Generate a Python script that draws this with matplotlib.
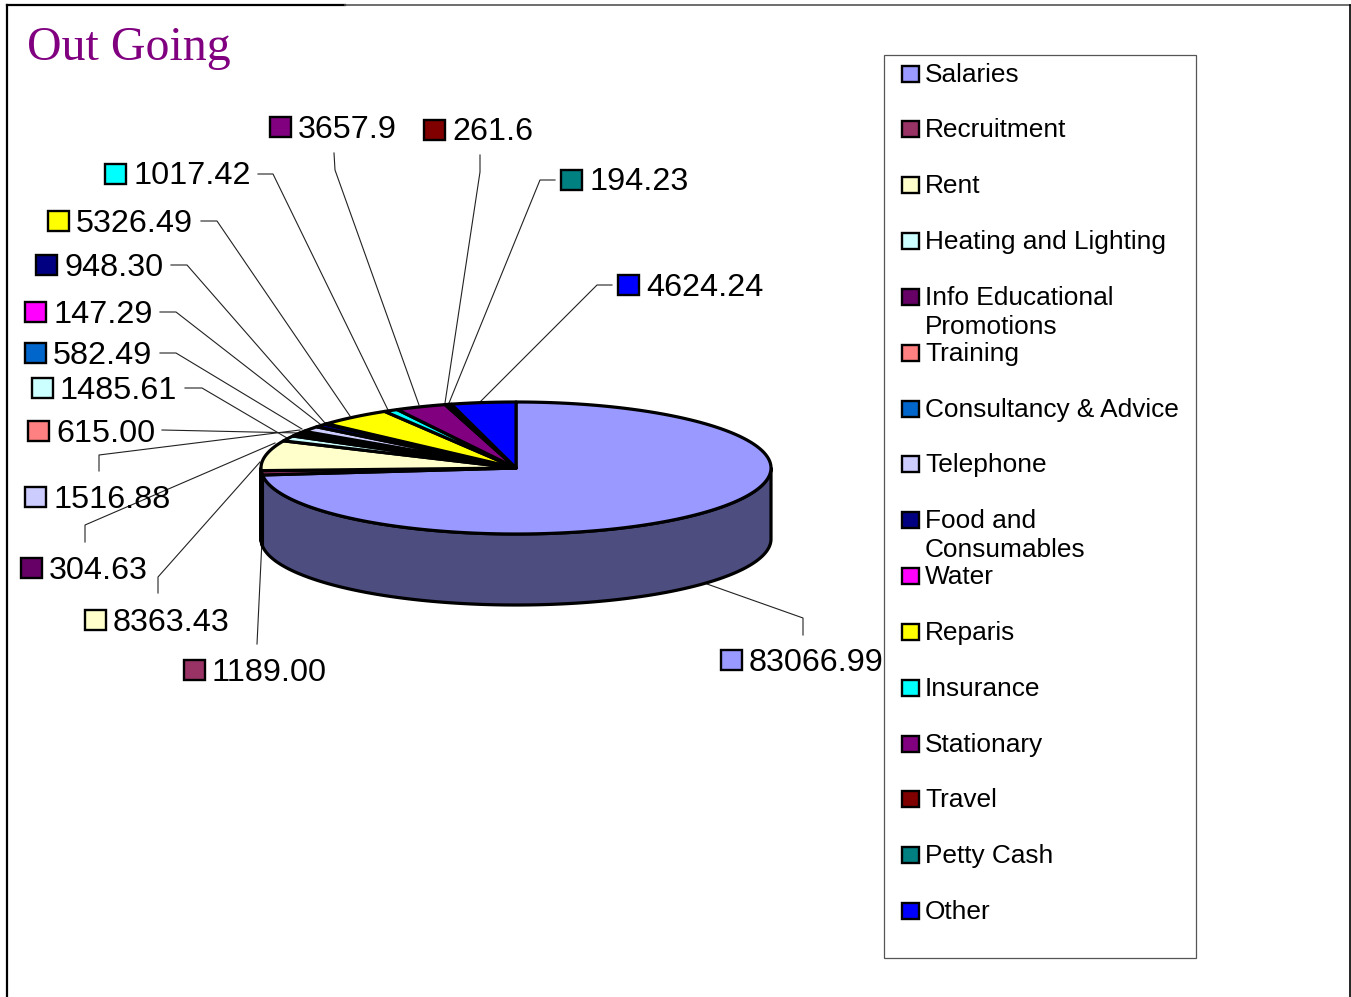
import numpy as np
import matplotlib
matplotlib.use("Agg")
import matplotlib.pyplot as plt
from matplotlib.patches import Polygon, Rectangle

categories = ["Salaries", "Recruitment", "Rent", "Heating and Lighting",
              "Info Educational\nPromotions", "Training", "Consultancy & Advice",
              "Telephone", "Food and\nConsumables", "Water", "Reparis", "Insurance",
              "Stationary", "Travel", "Petty Cash", "Other"]
values = [83066.99, 1189.00, 8363.43, 1485.61, 304.63, 615.00, 582.49, 1516.88,
          948.30, 147.29, 5326.49, 1017.42, 3657.9, 261.6, 194.23, 4624.24]
value_labels = ["83066.99", "1189.00", "8363.43", "1485.61", "304.63", "615.00", "582.49",
                "1516.88", "948.30", "147.29", "5326.49", "1017.42", "3657.9", "261.6",
                "194.23", "4624.24"]
colours = ["#9999FF", "#993366", "#FFFFCC", "#CCFFFF", "#660066", "#FF8080", "#0066CC",
           "#CCCCFF", "#000080", "#FF00FF", "#FFFF00", "#00FFFF", "#800080", "#800000",
           "#008080", "#0000FF"]

# label swatch left edge and text centre line, picture pixels
label_pos = [(721, 660), (184, 670), (85, 620), (32, 388), (21, 568), (28, 431), (25, 353),
             (25, 497), (36, 265), (25, 312), (48, 221), (105, 174), (270, 127), (424, 130),
             (561, 180), (618, 285)]
# leader lines, picture pixels
leaders = [[(803, 635), (803, 618), (707, 584)],
           [(257, 644), (262, 540)],
           [(158, 593), (158, 577), (260, 462)],
           [(185, 388), (202, 388), (287, 438)],
           [(85, 542), (85, 525), (275, 443)],
           [(162, 430), (300, 433)],
           [(160, 353), (176, 353), (302, 429)],
           [(99, 471), (99, 455), (300, 430)],
           [(171, 265), (187, 265), (325, 423)],
           [(160, 312), (176, 312), (320, 424)],
           [(201, 221), (217, 221), (350, 416)],
           [(258, 174), (273, 174), (388, 410)],
           [(334, 153), (335, 170), (419, 405)],
           [(480, 155), (480, 172), (445, 403)],
           [(555, 180), (540, 180), (449, 403)],
           [(612, 285), (597, 285), (480, 402)]]
legend_y = [74, 129, 185, 241, 297, 353, 409, 464, 520, 576, 632, 688, 744, 799, 855, 911]

cx, cy, rx, ry, depth = 516, 468, 255, 66, 71
edge = "black"

fig = plt.figure(figsize=(13.51, 9.97), dpi=100)
ax = fig.add_axes([0, 0, 1, 1])
ax.set_xlim(0, 1351)
ax.set_ylim(997, 0)
ax.axis("off")
plt.rcParams["font.family"] = "Liberation Sans"


def rim(a0, a1, dy=0):
    t = np.radians(np.linspace(a0, a1, max(int(abs(a1 - a0) * 2), 2)))
    return np.column_stack([cx + rx*np.sin(t), cy + dy - ry*np.cos(t)])


def darker(c):
    rgb = np.array(matplotlib.colors.to_rgb(c))
    return tuple(rgb*0.5)


# page border
ax.plot([7, 7], [997, 5], color="black", lw=1.6)
ax.plot([7, 345], [5, 5], color="black", lw=1.6)
ax.plot([345, 1350], [5, 5], color="#555555", lw=1.2)
ax.plot([1350, 1350], [5, 997], color="black", lw=1.2)

ax.text(27, 48, "Out Going", family="Liberation Serif", fontsize=34.5, color="#800080",
        ha="left", va="center")

# leaders go under the pie
for pts in leaders:
    p = np.array(pts)
    ax.plot(p[:, 0], p[:, 1], color="#222222", lw=0.8, zorder=1)

angles = np.concatenate([[0], np.cumsum(values)]) / sum(values) * 360

# side wall, only the front half is visible
for i in range(len(values)):
    a0, a1 = max(angles[i], 90), min(angles[i+1], 270)
    if a1 <= a0:
        continue
    wall = np.vstack([rim(a0, a1), rim(a0, a1, depth)[::-1]])
    ax.add_patch(Polygon(wall, closed=True, facecolor=darker(colours[i]), edgecolor=edge,
                         lw=2.3, zorder=2, joinstyle="round"))

# top slices
for i in range(len(values)):
    pts = np.vstack([[cx, cy], rim(angles[i], angles[i+1])])
    ax.add_patch(Polygon(pts, closed=True, facecolor=colours[i], edgecolor=edge,
                         lw=2.3, zorder=3, joinstyle="round"))

# value labels with swatches
for lab, c, (x, y) in zip(value_labels, colours, label_pos):
    ax.add_patch(Rectangle((x, y-10), 21, 20, facecolor=c, edgecolor="black", lw=1.7, zorder=5))
    ax.text(x+28, y+2.5, lab, fontsize=23.35, ha="left", va="center", color="black", zorder=6)

# legend
ax.add_patch(Rectangle((884, 55), 312, 903, facecolor="white", edgecolor="#555555", lw=0.9, zorder=4))
for name, c, y in zip(categories, colours, legend_y):
    ax.add_patch(Rectangle((902, y-8), 17, 16, facecolor=c, edgecolor="black", lw=1.7, zorder=5))
    ax.text(925, y-11, name, fontsize=18.95, ha="left", va="top", color="black", zorder=6,
            linespacing=1.24)

fig.savefig("out.png", dpi=100, facecolor="white")
